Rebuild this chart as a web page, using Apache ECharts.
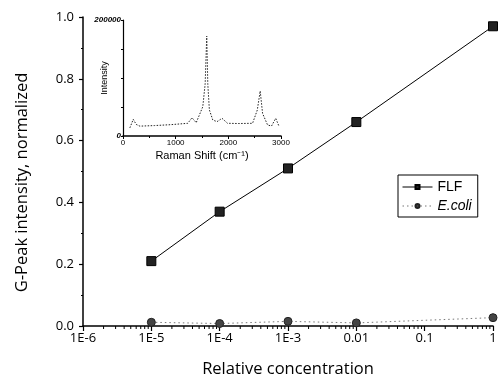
<!DOCTYPE html>
<html><head><meta charset="utf-8">
<script src="https://cdn.jsdelivr.net/npm/echarts@6/dist/echarts.min.js"></script>
<style>html,body{margin:0;padding:0;background:#fff}#c{width:500px;height:383px}</style>
</head><body><div id="c"></div>
<script>
// ---- data ----
var concentrations = [1e-5, 1e-4, 1e-3, 1e-2, 1];
var flfValues = [0.21, 0.37, 0.51, 0.66, 0.97];
var ecoliValues = [0.012, 0.008, 0.015, 0.010, 0.027];
var xTickLabels = ['1E-6', '1E-5', '1E-4', '1E-3', '0.01', '0.1', '1'];
var seriesNames = ['FLF', 'E.coli'];
// inset Raman spectrum (shift cm-1, intensity)
var ramanShift = [130, 195, 250, 320, 600, 900, 1230, 1310, 1390, 1515, 1560, 1590, 1610, 1640, 1705, 1785, 1880, 1985, 2200, 2460, 2550, 2605, 2650, 2745, 2820, 2900, 2960];
var ramanIntensity = [14000, 28800, 20000, 17000, 18000, 19500, 21900, 31500, 23000, 50500, 90000, 172400, 90000, 45000, 27600, 24700, 30500, 21900, 21500, 21900, 44800, 77600, 39000, 19000, 17200, 30500, 17200];

// minor tick positions for the log axis (axis decoration)
var minorLogTicks = [];
for (var e = -6; e < 0; e++) { for (var m = 2; m <= 9; m++) minorLogTicks.push(m * Math.pow(10, e)); }

var FONT = 'Open Sans';
var chart = echarts.init(document.getElementById('c'), null, {renderer: 'canvas'});
function pairs(xs, ys) { return xs.map(function (x, i) { return [x, ys[i]]; }); }

chart.setOption({
  animation: false,
  backgroundColor: '#fff',
  textStyle: {fontFamily: FONT},
  legend: {
    left: 398, top: 175, width: 91, height: 38,
    orient: 'vertical', itemGap: 5, itemWidth: 30, itemHeight: 5,
    padding: [5, 6, 4, 4],
    borderColor: '#000', borderWidth: 1, borderRadius: 0,
    lineStyle: {width: 1},
    data: seriesNames,
    textStyle: {fontFamily: 'Liberation Sans', fontSize: 14, color: '#000', rich: {i: {fontStyle: 'italic', fontFamily: 'Liberation Sans', fontSize: 14, color: '#000'}}},
    formatter: function (n) { return n === 'E.coli' ? '{i|E.coli}' : n; }
  },
  grid: [
    {left: 83, top: 17, width: 410, height: 309},
    {left: 123, top: 20, width: 158, height: 116}
  ],
  xAxis: [{
    type: 'log', logBase: 10, min: 1e-6, max: 1, splitNumber: 6, gridIndex: 0,
    name: 'Relative concentration', nameLocation: 'middle', nameGap: 35,
    nameTextStyle: {fontFamily: FONT, fontSize: 16.5, color: '#000'},
    axisLine: {lineStyle: {color: '#000', width: 1.5}},
    axisTick: {show: true, inside: false, length: 5, lineStyle: {color: '#000', width: 1.2}},
    splitLine: {show: false},
    axisLabel: {fontFamily: FONT, fontSize: 13, color: '#000', margin: 6, showMaxLabel: true, showMinLabel: true,
      formatter: function (v) { var k = Math.round(Math.log10(v)) + 6; return xTickLabels[k] || ''; }}
  }, {
    type: 'value', min: 0, max: 3000, interval: 1000, gridIndex: 1,
    name: 'Raman Shift (cm⁻¹)', nameLocation: 'middle', nameGap: 14, nameMoveOverlap: false,
    nameTextStyle: {fontFamily: 'Liberation Sans', fontSize: 11, color: '#000'},
    axisLine: {lineStyle: {color: '#000', width: 1.5}},
    axisTick: {inside: false, length: 3, lineStyle: {color: '#000'}},
    minorTick: {show: true, splitNumber: 2, length: 2, lineStyle: {color: '#000'}},
    splitLine: {show: false},
    axisLabel: {fontFamily: 'Liberation Sans', fontSize: 8, color: '#000', margin: 3,
      formatter: function (v) { return String(v); }}
  }],
  yAxis: [{
    type: 'value', min: 0, max: 1, interval: 0.2, gridIndex: 0,
    name: 'G-Peak intensity, normalized', nameLocation: 'middle', nameGap: 52,
    nameTextStyle: {fontFamily: FONT, fontSize: 16.5, color: '#000', padding: [0, 22, 0, 0]},
    axisLine: {show: true, lineStyle: {color: '#000', width: 1.5}},
    axisTick: {show: true, inside: false, length: 4, lineStyle: {color: '#000', width: 1.2}},
    minorTick: {show: true, splitNumber: 2, length: 2, lineStyle: {color: '#000'}},
    splitLine: {show: false},
    axisLabel: {fontFamily: FONT, fontSize: 13, color: '#000', margin: 9,
      formatter: function (v) { return v.toFixed(1); }}
  }, {
    type: 'value', min: 0, max: 200000, interval: 200000, gridIndex: 1,
    name: 'Intensity', nameLocation: 'middle', nameGap: 14, nameMoveOverlap: false,
    nameTextStyle: {fontFamily: 'Liberation Sans', fontSize: 9, color: '#000'},
    axisLine: {show: true, lineStyle: {color: '#000', width: 1.2}},
    axisTick: {show: true, inside: false, length: 2, lineStyle: {color: '#000'}},
    minorTick: {show: true, splitNumber: 4, length: 2, lineStyle: {color: '#000'}},
    splitLine: {show: false},
    axisLabel: {fontFamily: 'Liberation Sans', fontSize: 8, fontStyle: 'italic', fontWeight: 'bold', color: '#000', margin: 2,
      formatter: function (v) { return String(v); }}
  }],
  series: [{
    name: 'FLF', type: 'line', xAxisIndex: 0, yAxisIndex: 0,
    data: pairs(concentrations, flfValues),
    symbol: 'rect', symbolSize: 9, showAllSymbol: true,
    lineStyle: {color: '#000', width: 1}, itemStyle: {color: '#222', borderColor: '#000', borderWidth: 1}
  }, {
    name: 'E.coli', type: 'line', xAxisIndex: 0, yAxisIndex: 0,
    data: pairs(concentrations, ecoliValues),
    symbol: 'circle', symbolSize: 8,
    lineStyle: {color: '#777', width: 1, type: [1.5, 3]}, itemStyle: {color: '#444', borderColor: '#222', borderWidth: 1}
  }, {
    name: 'ticks', type: 'custom', xAxisIndex: 0, yAxisIndex: 0, silent: true, clip: false,
    data: minorLogTicks.map(function (v) { return [v, 0]; }),
    renderItem: function (params, api) {
      var p = api.coord([api.value(0), 0]);
      return {type: 'line', shape: {x1: p[0], y1: p[1], x2: p[0], y2: p[1] + 3}, style: {stroke: '#000', lineWidth: 1}};
    }
  }, {
    name: 'raman', type: 'line', xAxisIndex: 1, yAxisIndex: 1,
    data: pairs(ramanShift, ramanIntensity), symbol: 'none',
    lineStyle: {color: '#222', width: 1, type: [1.5, 1.5]}
  }]
});
</script></body></html>
